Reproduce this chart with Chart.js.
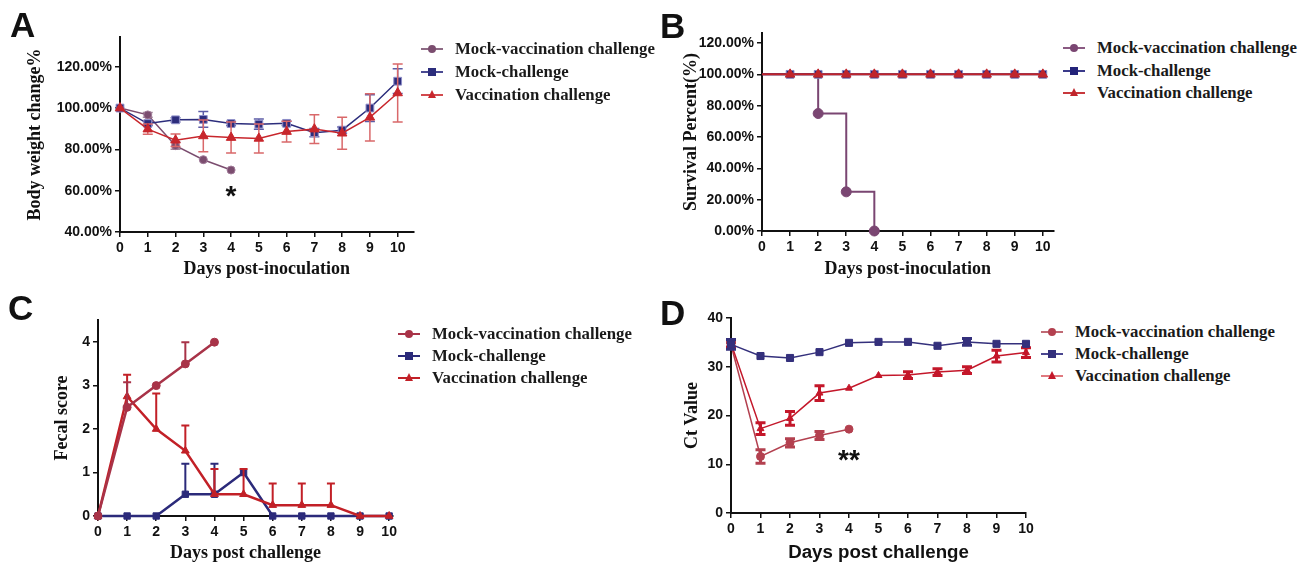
<!DOCTYPE html>
<html>
<head>
<meta charset="utf-8">
<script src="https://cdn.jsdelivr.net/npm/chart.js@4.4.1/dist/chart.umd.min.js"></script>
<style>
body { margin: 0; background: #fff; }
#fig { position: relative; width: 1307px; height: 564px; overflow: hidden; background: #fff; }
canvas { position: absolute; }
.tag { position: absolute; font: bold 35px 'Liberation Sans', Arial, sans-serif; color: #111; line-height: 1; }
.legend { position: absolute; font: bold 16.8px 'Liberation Serif', 'Times New Roman', serif; color: #1a1a1a; }
.row { display: flex; align-items: center; white-space: nowrap; }
.icon { position: relative; width: 22px; height: 12px; margin-right: 12px; flex: none; }
.ln { position: absolute; left: 0; right: 0; top: 5px; height: 2px; }
.mk { position: absolute; left: 7px; top: 2px; width: 8px; height: 8px; }
.mk.circle { border-radius: 50%; background: var(--c); }
.mk.rect { background: var(--c); }
.mk.triangle { width: 0; height: 0; left: 7px; top: 1px; border-left: 4px solid transparent; border-right: 4px solid transparent; border-bottom: 8px solid var(--c); }
</style>
</head>
<body>
<div id="fig">
  <canvas id="chartA" width="420" height="280" style="left:0;top:0"></canvas>
  <canvas id="chartB" width="420" height="280" style="left:640px;top:0"></canvas>
  <canvas id="chartC" width="400" height="284" style="left:0;top:280px"></canvas>
  <canvas id="chartD" width="400" height="284" style="left:640px;top:280px"></canvas>
  <div class="tag" style="left:10px;top:7px">A</div>
  <div class="tag" style="left:660px;top:8px">B</div>
  <div class="tag" style="left:8px;top:290px">C</div>
  <div class="tag" style="left:660px;top:295px">D</div>
</div>
<script>
const days = [0, 1, 2, 3, 4, 5, 6, 7, 8, 9, 10];
const seriesNames = ['Mock-vaccination challenge', 'Mock-challenge', 'Vaccination challenge'];
const markerStyles = ['circle', 'rect', 'triangle'];

// A - body weight change (%)
const weightMockVac = [100, 96.7, 81.8, 75, 70];
const weightMockVacErr = [0, 1.2, 1.8, 0, 0];
const weightMock = [100, 92.5, 94.3, 94.5, 92.5, 92.2, 92.6, 88.1, 89.3, 100, 113];
const weightMockErr = [0, 1, 1, 3.8, 1, 2.5, 1, 2, 1.5, 6.5, 6];
const weightVac = [100, 89.8, 84.4, 86.5, 85.7, 85.3, 88.6, 89.8, 87.8, 95.5, 107.3];
const weightVacErr = [0, 2.5, 3, 7.7, 7.5, 7, 5, 7, 7.7, 11.4, 14];

// B - survival (%)
const survivalMockVac = [100, 100, 75, 25, 0];
const survivalMock = [100, 100, 100, 100, 100, 100, 100, 100, 100, 100, 100];
const survivalVac = [100, 100, 100, 100, 100, 100, 100, 100, 100, 100, 100];

// C - fecal score (error bars one-sided, upward)
const fecalMockVac = [0, 2.5, 3, 3.5, 4];
const fecalMockVacErr = [0, 0.58, 0, 0.5, 0];
const fecalMock = [0, 0, 0, 0.5, 0.5, 1, 0, 0, 0, 0, 0];
const fecalMockErr = [0, 0, 0, 0.7, 0.7, 0, 0, 0, 0, 0, 0];
const fecalVac = [0, 2.75, 2, 1.5, 0.5, 0.5, 0.25, 0.25, 0.25, 0, 0];
const fecalVacErr = [0, 0.5, 0.82, 0.58, 0.58, 0.58, 0.5, 0.5, 0.5, 0, 0];

// D - Ct value
const ctMockVac = [34.5, 11.6, 14.4, 15.9, 17.2];
const ctMockVacErr = [0.5, 1.4, 0.85, 0.8, 0];
const ctMock = [34.6, 32.2, 31.8, 33.0, 34.9, 35.1, 35.1, 34.3, 35.1, 34.7, 34.7];
const ctMockErr = [1, 0, 0, 0, 0, 0, 0, 0, 0.7, 0, 0];
const ctVac = [34.8, 17.3, 19.4, 24.6, 25.6, 28.2, 28.3, 28.9, 29.3, 32.2, 32.9];
const ctVacErr = [0.8, 1.2, 1.4, 1.5, 0, 0, 0.7, 0.7, 0.7, 1.2, 1];

const starsA = [{ x: 4, y: 60.8, text: '*' }];
const starsD = [{ x: 4, y: 12.3, text: '**' }];

const sans = "'Liberation Sans', Arial, sans-serif";
const serif = "'Liberation Serif', 'Times New Roman', serif";
const ink = '#111';

function pts(ys) {
    return ys.map((v, i) => ({ x: days[i], y: v }));
}

// draws error bars under each dataset, using the chart's y scale
const errorBars = {
    id: 'errorBars',
    beforeDatasetDraw(chart, args) {
        const ds = chart.data.datasets[args.index];
        if (!ds.errors) return;
        const ctx = chart.ctx;
        const y = chart.scales.y;
        const half = (ds.capWidth || 8) / 2;
        ctx.save();
        ctx.strokeStyle = ds.errorColor || ds.borderColor;
        ctx.lineWidth = ds.errorWidth || 1.5;
        args.meta.data.forEach((pt, i) => {
            const e = ds.errors[i];
            if (!e) return;
            const v = ds.data[i].y;
            const top = y.getPixelForValue(v + e);
            const bottom = ds.errorDir === 'up' ? pt.y : y.getPixelForValue(v - e);
            ctx.beginPath();
            ctx.moveTo(pt.x, top);
            ctx.lineTo(pt.x, bottom);
            ctx.moveTo(pt.x - half, top);
            ctx.lineTo(pt.x + half, top);
            if (ds.errorDir !== 'up') {
                ctx.moveTo(pt.x - half, bottom);
                ctx.lineTo(pt.x + half, bottom);
            }
            ctx.stroke();
        });
        ctx.restore();
    }
};

const stars = {
    id: 'stars',
    afterDatasetsDraw(chart, args, opts) {
        if (!opts.items) return;
        const ctx = chart.ctx;
        const size = 28;
        ctx.save();
        ctx.fillStyle = ink;
        ctx.font = 'bold ' + size + 'px ' + sans;
        ctx.textAlign = 'center';
        ctx.textBaseline = 'alphabetic';
        opts.items.forEach(s => {
            const px = chart.scales.x.getPixelForValue(s.x);
            const py = chart.scales.y.getPixelForValue(s.y);
            ctx.fillText(s.text, px, py + size * 0.57);
        });
        ctx.restore();
    }
};

Chart.register(errorBars, stars);

function series(label, ys, color, style, extra) {
    return Object.assign({
        label: label,
        data: pts(ys),
        borderColor: color,
        backgroundColor: color,
        pointBackgroundColor: color,
        pointBorderColor: color,
        pointStyle: style,
        pointRadius: style === 'circle' ? 4 : 5.5,
        pointBorderWidth: 1,
        borderWidth: 1.5,
        tension: 0,
        clip: false
    }, extra || {});
}

function axis(p, which) {
    const a = {
        ticks: { color: ink, font: { family: sans, size: 14, weight: 'bold' }, padding: 3, maxRotation: 0, autoSkip: false, includeBounds: false },
        grid: { drawOnChartArea: false, color: ink, lineWidth: 1.5, tickLength: 5 },
        border: { color: ink, width: 2 },
        title: { display: true, color: ink, padding: 0 }
    };
    if (which === 'x') {
        a.type = 'linear';
        a.min = 0;
        a.max = p.xMax;
        a.ticks.stepSize = 1;
        a.title.text = p.xTitle;
        a.title.font = p.xTitleFont || { family: serif, size: 18, weight: 'bold', lineHeight: 1.2 };
        a.afterFit = s => { s.height = p.xH; };
    } else {
        a.min = p.yMin;
        a.max = p.yMax;
        a.ticks.stepSize = p.yStep;
        if (p.yFmt) a.ticks.callback = p.yFmt;
        a.title.text = p.yTitle;
        a.title.font = { family: serif, size: 18, weight: 'bold', lineHeight: 1.2 };
        a.afterFit = s => { s.width = p.yW; };
    }
    return a;
}

function makeChart(id, p, datasets, starItems) {
    return new Chart(document.getElementById(id), {
        type: 'line',
        data: { datasets: datasets },
        options: {
            responsive: false,
            animation: false,
            devicePixelRatio: 1,
            layout: { padding: p.pad },
            plugins: { legend: { display: false }, tooltip: { enabled: false }, stars: { items: starItems } },
            scales: { x: axis(p, 'x'), y: axis(p, 'y') }
        }
    });
}

const pct = v => v.toFixed(2) + '%';

// A
const colA = ['#7b4d6f', '#2c2d7c', '#c8262c'];
makeChart('chartA', {
    pad: { left: 25, top: 37, right: 3, bottom: 0 }, yW: 95, xH: 48,
    xMax: 10.57, xTitle: 'Days post-inoculation',
    yMin: 40, yMax: 134.4, yStep: 20, yFmt: pct, yTitle: 'Body weight change%'
}, [
    series(seriesNames[2], weightVac, colA[2], 'triangle', { errors: weightVacErr, errorColor: '#d9686a', capWidth: 10, order: 0 }),
    series(seriesNames[1], weightMock, colA[1], 'rect', { errors: weightMockErr, errorColor: '#5c5ca6', pointBorderColor: '#8e8ec8', capWidth: 10, order: 1 }),
    series(seriesNames[0], weightMockVac, colA[0], 'circle', { errors: weightMockVacErr, errorColor: '#a48a9c', pointBorderColor: '#a07a98', capWidth: 10, order: 2 })
], starsA);

// B
const colB = ['#7a4672', '#23237a', '#c0252b'];
const noFirst = n => days.slice(0, n).map(i => i === 0 ? 0 : 5.5);
makeChart('chartB', {
    pad: { left: 41, top: 33, right: 0, bottom: 0 }, yW: 81, xH: 49,
    xMax: 10.38, xTitle: 'Days post-inoculation',
    yMin: 0, yMax: 126.4, yStep: 20, yFmt: pct, yTitle: 'Survival Percent(%)'
}, [
    series(seriesNames[2], survivalVac, colB[2], 'triangle', { borderWidth: 2, pointRadius: noFirst(11), order: 0 }),
    series(seriesNames[1], survivalMock, colB[1], 'rect', { borderWidth: 2, pointRadius: noFirst(11), pointBorderColor: '#8888c0', order: 1 }),
    series(seriesNames[0], survivalMockVac, colB[0], 'circle', { borderWidth: 2, stepped: 'before', pointRadius: [0, 0, 5, 5, 5], order: 2 })
], null);

// C
const colC = ['#a83348', '#2b2a7a', '#c22027'];
makeChart('chartC', {
    pad: { left: 52, top: 40, right: 3, bottom: 0 }, yW: 46, xH: 48,
    xMax: 10.14, xTitle: 'Days post challenge',
    yMin: 0, yMax: 4.51, yStep: 1, yTitle: 'Fecal score'
}, [
    series(seriesNames[0], fecalMockVac, colC[0], 'circle', { borderWidth: 2.5, errors: fecalMockVacErr, errorDir: 'up', errorWidth: 2, capWidth: 8, order: 0 }),
    series(seriesNames[2], fecalVac, colC[2], 'triangle', { borderWidth: 2.5, errors: fecalVacErr, errorDir: 'up', errorWidth: 2, capWidth: 8, pointRadius: 4.5, order: 1 }),
    series(seriesNames[1], fecalMock, colC[1], 'rect', { borderWidth: 2.5, errors: fecalMockErr, errorDir: 'up', errorWidth: 2, capWidth: 8, pointRadius: 4.5, order: 2 })
], null);

// D
const colD = ['#b3404f', '#34307c', '#c4172a'];
makeChart('chartD', {
    pad: { left: 42, top: 38, right: 14, bottom: 0 }, yW: 49, xH: 51,
    xMax: 10, xTitle: 'Days post challenge', xTitleFont: { family: sans, size: 18.7, weight: 'bold', lineHeight: 1.2 },
    yMin: 0, yMax: 40, yStep: 10, yTitle: 'Ct Value'
}, [
    series(seriesNames[1], ctMock, colD[1], 'rect', { errors: ctMockErr, errorWidth: 3, capWidth: 10, pointRadius: 5, order: 0 }),
    series(seriesNames[2], ctVac, colD[2], 'triangle', { errors: ctVacErr, errorWidth: 3, capWidth: 10, pointRadius: 4, order: 1 }),
    series(seriesNames[0], ctMockVac, colD[0], 'circle', { errors: ctMockVacErr, errorWidth: 3, capWidth: 10, pointRadius: 4, order: 2 })
], starsD);

// legends (HTML, next to each panel)
function legend(left, top, gap, colors, lineColors) {
    const box = document.createElement('div');
    box.className = 'legend';
    box.style.left = left + 'px';
    box.style.top = top + 'px';
    seriesNames.forEach((name, i) => {
        const row = document.createElement('div');
        row.className = 'row';
        row.style.height = gap + 'px';
        const icon = document.createElement('span');
        icon.className = 'icon';
        icon.innerHTML = '<i class="ln" style="background:' + lineColors[i] + '"></i>' +
            '<i class="mk ' + markerStyles[i] + '" style="--c:' + colors[i] + '"></i>';
        const txt = document.createElement('span');
        txt.textContent = name;
        row.appendChild(icon);
        row.appendChild(txt);
        box.appendChild(row);
    });
    document.getElementById('fig').appendChild(box);
}

legend(421, 37.5, 23, colA, ['#8d6a84', '#4a4a92', '#d24a4e']);
legend(1063, 36.5, 22.7, colB, ['#8a5a82', '#3a3a8a', '#c8383c']);
legend(398, 323, 22, colC, colC);
legend(1041, 320.5, 22.2, colD, ['#c06a74', '#4a4690', '#e07a80']);
</script>
</body>
</html>
